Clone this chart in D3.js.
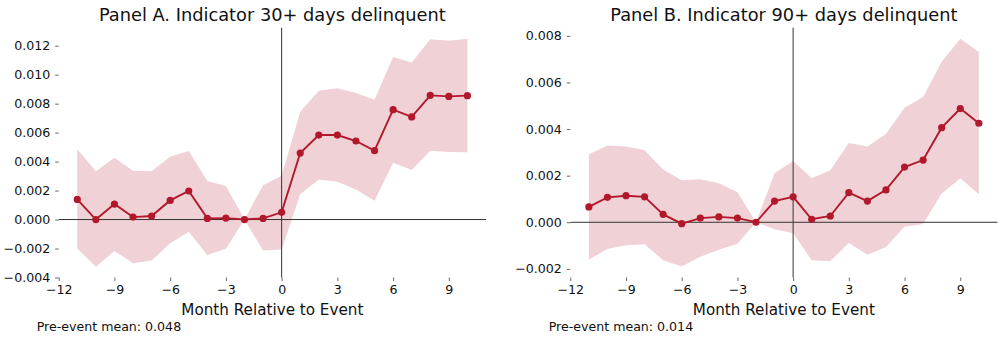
<!DOCTYPE html>
<html>
<head>
<meta charset="utf-8">
<script src="https://cdn.jsdelivr.net/npm/d3@7/dist/d3.min.js"></script>
<style>
  html, body { margin: 0; padding: 0; background: #fff; }
  svg { display: block; font-family: "DejaVu Sans", sans-serif; }
</style>
</head>
<body>
<svg id="chart" width="998" height="337"></svg>
<script>
// Event-study estimates by month relative to the event (reference month -2 = 0)
const months = d3.range(-11, 11);
const xTicks = [-12, -9, -6, -3, 0, 3, 6, 9];

const d30Coef = [0.00139, 0.0000, 0.00107, 0.00017, 0.00024, 0.00132, 0.00197, 0.00008, 0.00010, 0.0, 0.00008,
                 0.00050, 0.00459, 0.00583, 0.00583, 0.00542, 0.00475, 0.00758, 0.00708, 0.00857, 0.00850, 0.00855];
const d30Hi   = [0.00485, 0.00333, 0.00427, 0.00337, 0.00333, 0.00434, 0.00473, 0.00266, 0.00231, 0.0, 0.00236,
                 0.00302, 0.00744, 0.00889, 0.00906, 0.00873, 0.00827, 0.01122, 0.01083, 0.01244, 0.01234, 0.01248];
const d30Lo   = [-0.00199, -0.00326, -0.00217, -0.00302, -0.00282, -0.00164, -0.00084, -0.00245, -0.00202, 0.0, -0.00213,
                 -0.00206, 0.00174, 0.00277, 0.00261, 0.00208, 0.00130, 0.00392, 0.00342, 0.00475, 0.00466, 0.00464];
const d30Ticks = [-0.004, -0.002, 0, 0.002, 0.004, 0.006, 0.008, 0.010, 0.012];

const d90Coef = [0.00066, 0.00107, 0.00114, 0.00109, 0.00034, -0.00006, 0.00018, 0.00023, 0.00018, 0.0, 0.00091,
                 0.00109, 0.00013, 0.00027, 0.00127, 0.00091, 0.00139, 0.00237, 0.00267, 0.00406, 0.00488, 0.00425];
const d90Hi   = [0.00292, 0.00330, 0.00325, 0.00309, 0.00227, 0.00180, 0.00185, 0.00167, 0.00129, 0.0, 0.00210,
                 0.00263, 0.00189, 0.00223, 0.00340, 0.00325, 0.00379, 0.00492, 0.00538, 0.00689, 0.00788, 0.00731];
const d90Lo   = [-0.00160, -0.00115, -0.00099, -0.00094, -0.00163, -0.00190, -0.00148, -0.00118, -0.00092, 0.0, -0.00030,
                 -0.00047, -0.00163, -0.00167, -0.00089, -0.00139, -0.00106, -0.00019, -0.00007, 0.00124, 0.00189, 0.00120];
const d90Ticks = [-0.002, 0, 0.002, 0.004, 0.006, 0.008];

const panels = [
  { title: "Panel A. Indicator 30+ days delinquent", note: "Pre-event mean: 0.048",
    coef: d30Coef, lo: d30Lo, hi: d30Hi, yTicks: d30Ticks, yDomain: [-0.004, 0.01324],
    left: 58.7, right: 486, noteX: 36.7 },
  { title: "Panel B. Indicator 90+ days delinquent", note: "Pre-event mean: 0.014",
    coef: d90Coef, lo: d90Lo, hi: d90Hi, yTicks: d90Ticks, yDomain: [-0.00237, 0.00835],
    left: 570.3, right: 997.4, noteX: 548.7 }
];

const plotTop = 27.7, plotBottom = 277.5;
const lineColor = "#b2182b";
const svg = d3.select("#chart");

panels.forEach(p => {
  const x = d3.scaleLinear().domain([-12, 11]).range([p.left, p.right]);
  const y = d3.scaleLinear().domain(p.yDomain).range([plotBottom, plotTop]);
  const g = svg.append("g");
  const rows = months.map((m, i) => ({ m, c: p.coef[i], lo: p.lo[i], hi: p.hi[i] }));

  // confidence band
  g.append("path")
    .datum(rows)
    .attr("fill", lineColor)
    .attr("fill-opacity", 0.2)
    .attr("d", d3.area().x(d => x(d.m)).y0(d => y(d.lo)).y1(d => y(d.hi)));

  // reference lines at zero
  g.append("line")
    .attr("x1", p.left).attr("x2", p.right)
    .attr("y1", y(0)).attr("y2", y(0))
    .attr("stroke", "#333").attr("stroke-width", 1);
  g.append("line")
    .attr("x1", x(0)).attr("x2", x(0))
    .attr("y1", plotTop).attr("y2", plotBottom)
    .attr("stroke", "#333").attr("stroke-width", 1);

  // point estimates
  g.append("path")
    .datum(rows)
    .attr("fill", "none")
    .attr("stroke", lineColor)
    .attr("stroke-width", 1.9)
    .attr("d", d3.line().x(d => x(d.m)).y(d => y(d.c)));
  g.selectAll("circle.pt")
    .data(rows)
    .join("circle")
    .attr("class", "pt")
    .attr("cx", d => x(d.m)).attr("cy", d => y(d.c))
    .attr("r", 3.6)
    .attr("fill", lineColor);

  // axes (spines hidden, ticks kept)
  const yAxis = d3.axisLeft(y).tickValues(p.yTicks).tickFormat(d3.format(".3f"))
    .tickSize(3.5).tickPadding(5);
  const yG = g.append("g").attr("transform", `translate(${p.left},0)`).call(yAxis);
  const xAxis = d3.axisBottom(x).tickValues(xTicks).tickFormat(d3.format("d"))
    .tickSize(3.5).tickPadding(4);
  const xG = g.append("g").attr("transform", `translate(0,${plotBottom})`).call(xAxis);
  [yG, xG].forEach(a => {
    a.select(".domain").remove();
    a.selectAll(".tick line").attr("stroke", "#555").attr("stroke-width", 0.9);
    a.selectAll(".tick text").attr("fill", "#111").style("font-size", "12.6px")
      .style("font-family", "DejaVu Sans");
  });

  // labels
  const cx = (p.left + p.right) / 2;
  g.append("text").attr("x", cx).attr("y", 20.7).attr("text-anchor", "middle")
    .attr("fill", "#111").style("font-size", "17.8px").text(p.title);
  g.append("text").attr("x", cx).attr("y", 315).attr("text-anchor", "middle")
    .attr("fill", "#111").style("font-size", "15.2px").text("Month Relative to Event");
  g.append("text").attr("x", p.noteX).attr("y", 331).attr("text-anchor", "start")
    .attr("fill", "#111").style("font-size", "12.6px").text(p.note);
});
</script>
</body>
</html>
